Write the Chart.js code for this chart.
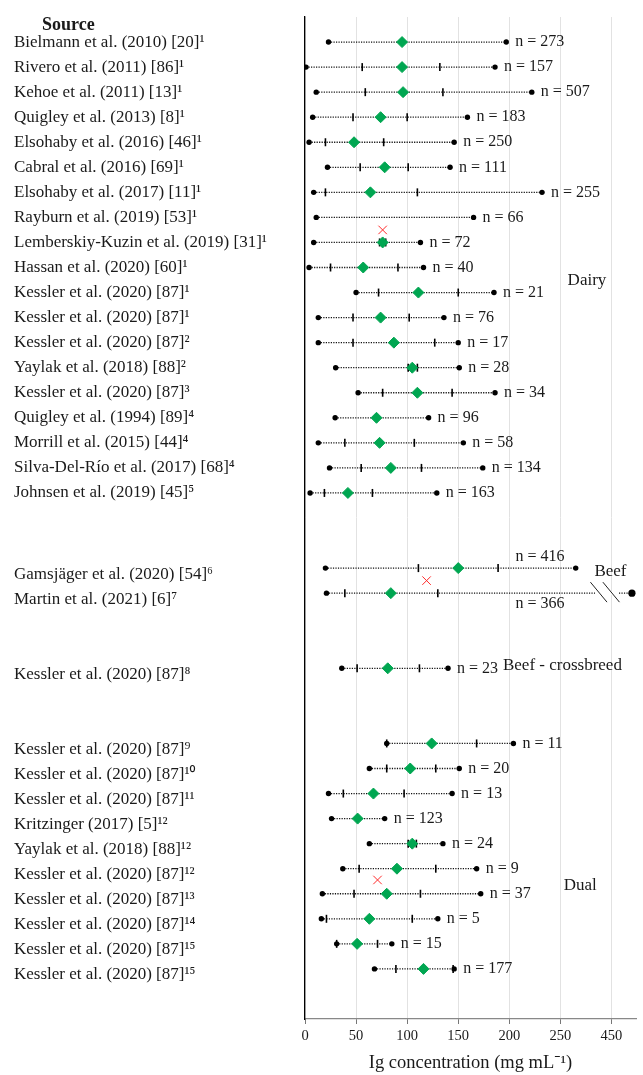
<!DOCTYPE html>
<html>
<head>
<meta charset="utf-8">
<script src="https://cdn.jsdelivr.net/npm/chart.js@4.4.0/dist/chart.umd.min.js"></script>
<style>
  html, body { margin: 0; padding: 0; background: #fff; }
  #wrap { width: 643px; height: 1075px; position: relative; }
</style>
</head>
<body>
<div id="wrap"><canvas id="igChart"></canvas></div>
<script>
// one slot per row, '' = spacer row between the groups
const sources = [
    'Bielmann et al. (2010) [20]¹', 'Rivero et al. (2011) [86]¹', 'Kehoe et al. (2011) [13]¹',
    'Quigley et al. (2013) [8]¹', 'Elsohaby et al. (2016) [46]¹', 'Cabral et al. (2016) [69]¹',
    'Elsohaby et al. (2017) [11]¹', 'Rayburn et al. (2019) [53]¹', 'Lemberskiy-Kuzin et al. (2019) [31]¹',
    'Hassan et al. (2020) [60]¹', 'Kessler et al. (2020) [87]¹', 'Kessler et al. (2020) [87]¹',
    'Kessler et al. (2020) [87]²', 'Yaylak et al. (2018) [88]²', 'Kessler et al. (2020) [87]³',
    'Quigley et al. (1994) [89]⁴', 'Morrill et al. (2015) [44]⁴', 'Silva-Del-Río et al. (2017) [68]⁴',
    'Johnsen et al. (2019) [45]⁵', '', '',
    'Gamsjäger et al. (2020) [54]⁶', 'Martin et al. (2021) [6]⁷', '', '',
    'Kessler et al. (2020) [87]⁸', '', '',
    'Kessler et al. (2020) [87]⁹', 'Kessler et al. (2020) [87]¹⁰', 'Kessler et al. (2020) [87]¹¹',
    'Kritzinger (2017) [5]¹²', 'Yaylak et al. (2018) [88]¹²', 'Kessler et al. (2020) [87]¹²',
    'Kessler et al. (2020) [87]¹³', 'Kessler et al. (2020) [87]¹⁴', 'Kessler et al. (2020) [87]¹⁵',
    'Kessler et al. (2020) [87]¹⁵'
];

// Ig concentration, mg/mL (null = not reported)
const minVals  = [23, 1, 11, 7.5, 4, 22, 8.5, 11, 8.5, 4, 50, 13, 13, 30, 52, 29.5, 13, 24, 5, null, null,
                  20, 21, null, null, 36, null, null, 80, 63, 23, 26, 63, 37, 17, 16, 31, 68];
const q1Vals   = [null, 56, 59, 47, 20, 54, 20, null, 73, 25, 72, 47, 47, 101, 76, null, 39, 55, 19, null, null,
                  111, 39, null, null, 51, null, null, 80, 80, 37.5, null, 101, 53, 48, 21, 31, 89];
const meanVals = [95, 95, 96, 74, 48, 78, 64, null, 76, 57, 111, 74, 87, 105, 110, 70, 73, 84, 42, null, null,
                  150, 84, null, null, 81, null, null, 124, 103, 67, 51.5, 105, 90, 80, 63, 51, 116];
const q3Vals   = [null, 132, 135, 100, 77, 101, 110, null, 79, 91, 150, 102, 127, 110, 144, null, 107, 114, 66, null, null,
                  189, 130, null, null, 112, null, null, 168, 128, 97, null, 109, 128, 113, 105, 71, 145];
const maxVals  = [197, 186, 222, 159, 146, 142, 232, 165, 113, 116, 185, 136, 150, 151, 186, 121, 155, 174, 129, null, null,
                  265, 470, null, null, 140, null, null, 204, 151, 144, 78, 135, 168, 172, 130, 85, 146];
const nVals    = [273, 157, 507, 183, 250, 111, 255, 66, 72, 40, 21, 76, 17, 28, 34, 96, 58, 134, 163, null, null,
                  416, 366, null, null, 23, null, null, 11, 20, 13, 123, 24, 9, 37, 5, 15, 177];

// red crosses (value, row)
const crossVals = [76, 119, 71];
const crossRows = [7.5, 21.5, 33.45];

const groupNames = ['Dairy', 'Beef', 'Beef - crossbreed', 'Dual'];
const xTicks = [0, 50, 100, 150, 200, 250, 450];

// axis is broken after 250: the 300 slot shows 450
const breakFrom = 300, breakShift = 150;
const axisX = v => (v == null ? null : (v > breakFrom ? v - breakShift : v));

const FONT = "'Liberation Serif', 'Noto Sans', 'DejaVu Serif', serif";
const INK = '#1a1a1a';

const rangePts = [], quartPts = [], meanPts = [];
sources.forEach((s, i) => {
    if (minVals[i] == null) return;
    rangePts.push({ x: axisX(minVals[i]), y: i }, { x: axisX(maxVals[i]), y: i }, { x: null, y: null });
    if (q1Vals[i] != null) quartPts.push({ x: q1Vals[i], y: i });
    if (q3Vals[i] != null) quartPts.push({ x: q3Vals[i], y: i });
    if (meanVals[i] != null) meanPts.push({ x: meanVals[i], y: i });
});
const crossPts = crossVals.map((v, k) => ({ x: v, y: crossRows[k] }));

// labelled rows (group 2 onwards sits a little lower in the original)
const labelRows = sources.map((s, i) => ({ s, i })).filter(e => e.s !== '');

const extras = {
    id: 'extras',
    afterDatasetsDraw(chart) {
        const { ctx, scales: { x, y } } = chart;
        ctx.save();

        // axis break on the Martin row
        const by = y.getPixelForValue(22);
        ctx.fillStyle = '#fff';
        ctx.fillRect(x.getPixelForValue(284), by - 2, x.getPixelForValue(307) - x.getPixelForValue(284), 4);
        ctx.strokeStyle = '#222';
        ctx.lineWidth = 1;
        [287.5, 299.7].forEach(v => {
            const cx = x.getPixelForValue(v);
            ctx.beginPath();
            ctx.moveTo(cx - 8.3, by - 11);
            ctx.lineTo(cx + 8.3, by + 9);
            ctx.stroke();
        });

        // n labels
        ctx.fillStyle = INK;
        ctx.font = '16px ' + FONT;
        ctx.textBaseline = 'middle';
        nVals.forEach((n, i) => {
            if (n == null) return;
            const txt = 'n = ' + n;
            if (i === 21 || i === 22) {
                ctx.textAlign = 'center';
                ctx.fillText(txt, x.getPixelForValue(230), y.getPixelForValue(i + (i === 21 ? -0.44 : 0.43)));
            } else {
                ctx.textAlign = 'left';
                ctx.fillText(txt, x.getPixelForValue(axisX(maxVals[i])) + 9, y.getPixelForValue(i));
            }
        });

        // group names
        ctx.font = '17px ' + FONT;
        ctx.textAlign = 'center';
        const spots = [[276, 9.54], [299, 21.15], [252, 24.9], [269.5, 33.68]];
        groupNames.forEach((g, k) => {
            ctx.fillText(g, x.getPixelForValue(spots[k][0]), y.getPixelForValue(spots[k][1]));
        });

        // column header
        ctx.font = 'bold 18px ' + FONT;
        ctx.textAlign = 'left';
        ctx.fillText('Source', 42, 25);
        ctx.restore();
    }
};

new Chart(document.getElementById('igChart'), {
    type: 'scatter',
    data: {
        datasets: [
            {
                label: 'cross', data: crossPts, order: 0,
                pointStyle: 'crossRot', pointRadius: 6, borderColor: '#ff2a2a', borderWidth: 1
            },
            {
                label: 'mean', data: meanPts, order: 1,
                pointStyle: 'rectRot', pointRadius: 5.5,
                backgroundColor: '#00a651', borderColor: '#00a651', borderWidth: 1
            },
            {
                label: 'quartiles', data: quartPts, order: 2,
                pointStyle: 'line', pointRotation: 90, pointRadius: 4,
                borderColor: '#000', borderWidth: 1.6
            },
            {
                label: 'range', data: rangePts, order: 3,
                showLine: true, spanGaps: false,
                borderColor: '#111', borderWidth: 1.3, borderDash: [1.2, 1.3],
                pointRadius: c => (c.raw && c.raw.x > 300 ? 3.6 : 2.7),
                pointBackgroundColor: '#000', pointBorderWidth: 0
            }
        ]
    },
    options: {
        responsive: true,
        maintainAspectRatio: false,
        animation: false,
        events: [],
        layout: { padding: { top: 17, left: 14, right: 0, bottom: 0 } },
        plugins: { legend: { display: false }, tooltip: { enabled: false } },
        scales: {
            x: {
                type: 'linear', min: 0, max: 324,
                afterFit: s => { s.height = 56; },
                grid: { color: '#e2e2e2', lineWidth: 1, tickColor: '#777', tickLength: 5 },
                border: { color: '#888', width: 1.2 },
                ticks: {
                    stepSize: 50, includeBounds: false, maxRotation: 0, padding: 3,
                    color: INK, font: { family: FONT, size: 14.5 },
                    callback: v => xTicks[v / 50]
                },
                title: {
                    display: true, text: 'Ig concentration (mg mL⁻¹)', color: INK,
                    font: { family: FONT, size: 18.5 }, padding: { top: 0, bottom: 1 }
                }
            },
            y: {
                type: 'linear', min: -1, max: 39, reverse: true,
                afterFit: s => { s.width = 291; },
                afterBuildTicks: s => {
                    s.ticks = labelRows.map(e => ({ value: e.i + (e.i >= 19 ? 0.24 : 0) }));
                },
                grid: { display: false },
                border: { display: true, color: '#000', width: 1.3 },
                ticks: {
                    autoSkip: false, crossAlign: 'far', padding: 0,
                    color: INK, font: { family: FONT, size: 17 },
                    callback: (v, idx) => labelRows[idx] ? labelRows[idx].s : ''
                }
            }
        }
    },
    plugins: [extras]
});
</script>
</body>
</html>
